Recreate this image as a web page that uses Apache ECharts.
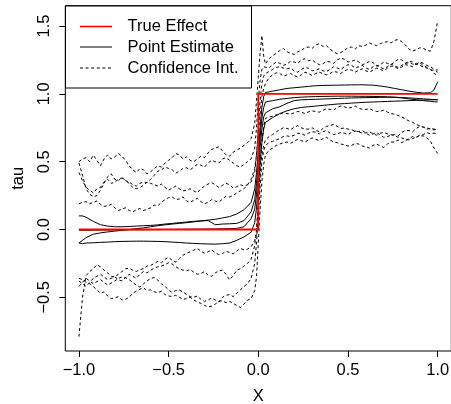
<!DOCTYPE html>
<html>
<head>
<meta charset="utf-8">
<script src="https://cdn.jsdelivr.net/npm/echarts@6/dist/echarts.min.js"></script>
<style>html,body{margin:0;padding:0;background:#fff}#c{width:451px;height:404px}</style>
</head>
<body>
<div id="c"></div>
<script>
// ---- data ----
// x positions of the point-estimate curves
const peX = [-1,-0.98,-0.96,-0.92,-0.88,-0.84,-0.8,-0.76,-0.72,-0.68,-0.64,-0.6,-0.56,-0.52,-0.48,-0.44,-0.4,-0.36,-0.32,-0.28,-0.24,-0.2,-0.16,-0.12,-0.08,-0.04,
  -0.02,-0.01,0,0.01,0.02,0.03,
  0.04,0.08,0.12,0.16,0.2,0.24,0.28,0.32,0.36,0.4,0.44,0.48,0.52,0.56,0.6,0.64,0.68,0.72,0.76,0.8,0.84,0.88,0.92,0.96,0.98,1];

// x positions of the confidence-bound curves
const ciX = [
  -1,-0.98,-0.96,-0.94,-0.92,-0.9,-0.88,-0.86,-0.84,-0.82,
  -0.8,-0.78,-0.76,-0.74,-0.72,-0.7,-0.68,-0.66,-0.64,-0.62,
  -0.6,-0.58,-0.56,-0.54,-0.52,-0.5,-0.48,-0.46,-0.44,-0.42,
  -0.4,-0.38,-0.36,-0.34,-0.32,-0.3,-0.28,-0.26,-0.24,-0.22,
  -0.2,-0.18,-0.16,-0.14,-0.12,-0.1,-0.08,-0.06,-0.04,
  -0.02,-0.01,0,0.01,0.02,0.03,
  0.04,0.06,0.08,0.1,0.12,0.14,0.16,0.18,0.2,0.22,
  0.24,0.26,0.28,0.3,0.32,0.34,0.36,0.38,0.4,0.42,
  0.44,0.46,0.48,0.5,0.52,0.54,0.56,0.58,0.6,0.62,
  0.64,0.66,0.68,0.7,0.72,0.74,0.76,0.78,0.8,0.82,
  0.84,0.86,0.88,0.9,0.92,0.94,0.96,0.98,1];

const trueX = [-1, 0, 0, 1];
const trueY = [0, 0, 1, 1];

// point estimates
const pe1 = [0.10,0.10,0.09,0.06,0.035,0.025,0.02,0.02,0.022,0.025,0.028,0.03,0.034,0.04,0.045,0.05,0.055,0.06,0.064,0.069,0.075,0.085,0.095,0.115,0.145,0.2,
  0.3,0.42,0.58,0.75,0.9,0.98,
  1.01,1.02,1.03,1.04,1.045,1.05,1.055,1.06,1.062,1.063,1.064,1.065,1.066,1.067,1.066,1.064,1.058,1.05,1.04,1.03,1.02,1.012,1.006,1.008,1.03,1.09];
const pe2 = [-0.10,-0.08,-0.06,-0.035,-0.025,-0.018,-0.012,-0.006,0.0,0.006,0.012,0.02,0.028,0.034,0.04,0.045,0.05,0.056,0.062,0.066,0.035,0.04,0.042,0.045,0.065,0.13,
  0.22,0.34,0.5,0.68,0.82,0.9,
  0.94,0.95,0.96,0.966,0.972,0.976,0.978,0.98,0.981,0.982,0.983,0.983,0.983,0.982,0.982,0.981,0.98,0.978,0.975,0.97,0.963,0.957,0.95,0.945,0.942,0.94];
const pe3 = [-0.005,-0.006,-0.006,-0.005,-0.004,-0.004,-0.003,-0.003,-0.002,-0.002,-0.002,-0.001,-0.001,0.0,0.0,0.001,0.001,0.002,0.002,0.003,0.004,0.005,0.006,0.008,0.02,0.08,
  0.15,0.26,0.42,0.6,0.74,0.83,
  0.86,0.89,0.905,0.93,0.95,0.956,0.958,0.96,0.962,0.964,0.966,0.968,0.97,0.971,0.972,0.973,0.974,0.975,0.975,0.973,0.97,0.967,0.963,0.96,0.958,0.955];
const pe4 = [-0.10,-0.105,-0.10,-0.098,-0.095,-0.093,-0.09,-0.088,-0.087,-0.086,-0.086,-0.087,-0.088,-0.09,-0.093,-0.096,-0.1,-0.103,-0.105,-0.107,-0.108,-0.105,-0.1,-0.08,-0.055,-0.02,
  0.05,0.16,0.33,0.5,0.64,0.74,
  0.79,0.825,0.855,0.875,0.89,0.9,0.905,0.91,0.915,0.92,0.925,0.928,0.932,0.935,0.938,0.94,0.942,0.944,0.946,0.948,0.95,0.952,0.954,0.956,0.957,0.958];

// upper confidence bounds
const up1 = [
  0.50,0.52,0.53,0.50,0.548,0.51,0.47,0.52,0.55,0.52,
  0.535,0.56,0.54,0.51,0.47,0.44,0.42,0.45,0.44,0.41,
  0.425,0.45,0.47,0.46,0.49,0.51,0.53,0.56,0.55,0.52,
  0.535,0.51,0.50,0.52,0.54,0.53,0.565,0.59,0.60,0.61,
  0.58,0.55,0.54,0.57,0.585,0.60,0.62,0.64,0.67,
  0.78,0.95,1.12,1.3,1.43,1.28,
  1.22,1.26,1.28,1.30,1.32,1.335,1.31,1.30,1.29,1.31,
  1.32,1.34,1.345,1.335,1.36,1.37,1.35,1.355,1.33,1.31,
  1.295,1.305,1.32,1.34,1.345,1.33,1.355,1.35,1.36,1.375,
  1.365,1.355,1.37,1.38,1.385,1.375,1.395,1.40,1.385,1.36,
  1.33,1.315,1.325,1.34,1.335,1.32,1.315,1.39,1.54];
const up2 = [
  0.42,0.36,0.31,0.29,0.27,0.30,0.31,0.35,0.37,0.34,
  0.35,0.37,0.38,0.36,0.35,0.33,0.32,0.34,0.35,0.345,
  0.37,0.40,0.43,0.44,0.46,0.45,0.44,0.415,0.43,0.45,
  0.455,0.44,0.46,0.48,0.475,0.46,0.49,0.51,0.50,0.49,
  0.52,0.53,0.51,0.49,0.47,0.46,0.48,0.50,0.52,
  0.6,0.75,0.95,1.1,1.18,1.2,
  1.2,1.19,1.215,1.235,1.225,1.21,1.22,1.24,1.235,1.225,
  1.25,1.26,1.245,1.25,1.23,1.215,1.222,1.24,1.235,1.225,
  1.25,1.265,1.255,1.235,1.24,1.25,1.235,1.215,1.225,1.24,
  1.23,1.205,1.215,1.235,1.225,1.215,1.235,1.255,1.25,1.225,
  1.24,1.235,1.22,1.21,1.2,1.19,1.18,1.17,1.16];
const up3 = [
  0.49,0.40,0.30,0.26,0.24,0.25,0.29,0.34,0.39,0.41,
  0.37,0.36,0.385,0.36,0.34,0.31,0.30,0.31,0.325,0.35,
  0.34,0.33,0.32,0.335,0.31,0.29,0.305,0.32,0.30,0.285,
  0.29,0.30,0.285,0.27,0.30,0.32,0.335,0.345,0.33,0.31,
  0.325,0.34,0.33,0.305,0.315,0.33,0.32,0.33,0.35,
  0.42,0.55,0.75,0.95,1.08,1.13,
  1.15,1.165,1.18,1.195,1.2,1.19,1.185,1.19,1.17,1.16,
  1.18,1.195,1.188,1.17,1.175,1.185,1.17,1.165,1.18,1.2,
  1.19,1.18,1.2,1.215,1.21,1.19,1.2,1.21,1.19,1.18,
  1.2,1.21,1.195,1.185,1.2,1.22,1.205,1.195,1.21,1.225,
  1.23,1.22,1.215,1.235,1.225,1.21,1.2,1.18,1.175];
const up4 = [
  0.19,0.20,0.205,0.19,0.20,0.21,0.185,0.17,0.175,0.185,
  0.16,0.14,0.15,0.16,0.14,0.13,0.145,0.155,0.14,0.15,
  0.16,0.18,0.175,0.20,0.22,0.235,0.24,0.22,0.225,0.24,
  0.21,0.20,0.215,0.23,0.205,0.19,0.20,0.22,0.21,0.20,
  0.225,0.245,0.24,0.25,0.27,0.285,0.30,0.33,0.37,
  0.45,0.55,0.7,0.85,0.98,1.04,
  1.076,1.12,1.14,1.155,1.15,1.13,1.14,1.15,1.135,1.125,
  1.14,1.16,1.15,1.135,1.15,1.16,1.148,1.14,1.15,1.165,
  1.16,1.15,1.17,1.18,1.175,1.16,1.174,1.185,1.17,1.16,
  1.175,1.19,1.18,1.17,1.19,1.205,1.2,1.185,1.198,1.215,
  1.21,1.2,1.22,1.23,1.21,1.195,1.18,1.15,1.137];

// lower confidence bounds
const lo1 = [
  -0.79,-0.5,-0.34,-0.31,-0.29,-0.26,-0.275,-0.30,-0.32,-0.345,
  -0.35,-0.33,-0.31,-0.29,-0.285,-0.30,-0.31,-0.295,-0.29,-0.27,
  -0.265,-0.25,-0.235,-0.245,-0.22,-0.205,-0.228,-0.24,-0.214,-0.19,
  -0.175,-0.165,-0.153,-0.14,-0.16,-0.175,-0.165,-0.15,-0.172,-0.185,
  -0.178,-0.16,-0.17,-0.18,-0.158,-0.14,-0.15,-0.145,-0.128,
  -0.08,-0.03,0.2,0.45,0.65,0.76,
  0.82,0.83,0.835,0.845,0.85,0.86,0.855,0.85,0.86,0.87,
  0.865,0.855,0.867,0.875,0.87,0.865,0.878,0.89,0.885,0.88,
  0.9,0.91,0.905,0.895,0.9,0.91,0.895,0.885,0.885,0.89,
  0.878,0.87,0.872,0.88,0.865,0.855,0.85,0.84,0.83,0.815,
  0.8,0.79,0.775,0.765,0.755,0.75,0.74,0.735,0.74];
const lo2 = [
  -0.38,-0.40,-0.42,-0.39,-0.36,-0.345,-0.33,-0.35,-0.37,-0.36,
  -0.35,-0.37,-0.38,-0.355,-0.33,-0.345,-0.36,-0.33,-0.31,-0.32,
  -0.30,-0.285,-0.275,-0.27,-0.26,-0.245,-0.255,-0.275,-0.29,-0.30,
  -0.305,-0.295,-0.315,-0.33,-0.325,-0.31,-0.337,-0.345,-0.32,-0.305,
  -0.30,-0.33,-0.372,-0.34,-0.30,-0.29,-0.27,-0.25,-0.22,
  -0.12,0.0,0.2,0.4,0.55,0.62,
  0.66,0.685,0.7,0.72,0.735,0.75,0.745,0.735,0.755,0.765,
  0.75,0.74,0.74,0.75,0.732,0.72,0.745,0.76,0.765,0.775,
  0.76,0.745,0.748,0.74,0.735,0.725,0.722,0.73,0.71,0.695,
  0.705,0.715,0.695,0.68,0.685,0.695,0.70,0.69,0.715,0.73,
  0.73,0.72,0.745,0.76,0.755,0.74,0.745,0.74,0.735];
const lo3 = [
  -0.42,-0.39,-0.36,-0.38,-0.40,-0.385,-0.37,-0.39,-0.41,-0.395,
  -0.38,-0.36,-0.35,-0.355,-0.37,-0.39,-0.41,-0.425,-0.40,-0.38,
  -0.36,-0.355,-0.374,-0.40,-0.42,-0.445,-0.465,-0.45,-0.447,-0.46,
  -0.48,-0.495,-0.50,-0.49,-0.515,-0.53,-0.52,-0.505,-0.52,-0.535,
  -0.50,-0.485,-0.48,-0.495,-0.47,-0.445,-0.42,-0.40,-0.36,
  -0.25,-0.1,0.1,0.32,0.5,0.58,
  0.62,0.64,0.65,0.66,0.67,0.685,0.69,0.685,0.695,0.71,
  0.705,0.695,0.71,0.72,0.718,0.705,0.72,0.73,0.71,0.70,
  0.705,0.715,0.71,0.70,0.715,0.725,0.72,0.71,0.712,0.72,
  0.705,0.695,0.71,0.715,0.705,0.70,0.69,0.68,0.675,0.665,
  0.66,0.67,0.68,0.695,0.70,0.715,0.705,0.71,0.705];
const lo4 = [
  -0.36,-0.37,-0.39,-0.40,-0.42,-0.445,-0.47,-0.46,-0.49,-0.51,
  -0.505,-0.495,-0.52,-0.515,-0.50,-0.47,-0.455,-0.44,-0.43,-0.45,
  -0.445,-0.46,-0.465,-0.455,-0.48,-0.49,-0.495,-0.485,-0.50,-0.515,
  -0.51,-0.50,-0.52,-0.535,-0.545,-0.56,-0.57,-0.565,-0.55,-0.53,
  -0.525,-0.54,-0.53,-0.545,-0.56,-0.575,-0.55,-0.52,-0.51,
  -0.45,-0.35,-0.1,0.15,0.35,0.48,
  0.55,0.585,0.6,0.62,0.63,0.64,0.645,0.635,0.65,0.665,
  0.655,0.645,0.66,0.675,0.665,0.655,0.67,0.68,0.66,0.645,
  0.64,0.63,0.625,0.615,0.62,0.635,0.63,0.615,0.61,0.6,
  0.62,0.63,0.615,0.605,0.63,0.645,0.645,0.66,0.64,0.655,
  0.67,0.685,0.68,0.69,0.69,0.675,0.65,0.6,0.56];

const xTicks = [-1, -0.5, 0, 0.5, 1];
const xTickLabels = ['\u22121.0', '\u22120.5', '0.0', '0.5', '1.0'];
const yTicks = [-0.5, 0, 0.5, 1, 1.5];
const yTickLabels = ['\u22120.5', '0.0', '0.5', '1.0', '1.5'];
const legendLabels = ['True Effect', 'Point Estimate', 'Confidence Int.'];

// ---- chart ----
const FONT = 'Liberation Sans, Arial, Helvetica, sans-serif';
const FS = 16.5;
const pairs = (xv, ys) => xv.map((x, i) => [x, ys[i]]);
const lookup = (ticks, labels) => (v) => {
  const i = ticks.findIndex(t => Math.abs(t - v) < 1e-9);
  return i >= 0 ? labels[i] : '';
};

const series = [];
[up1, up2, up3, up4, lo1, lo2, lo3, lo4].forEach((d) => series.push({
  name: 'Confidence Int.', type: 'line', data: pairs(ciX, d), showSymbol: false, silent: true,
  lineStyle: { color: '#000', width: 1, type: [3, 2.6] }, z: 2
}));
[pe1, pe2, pe3, pe4].forEach((d) => series.push({
  name: 'Point Estimate', type: 'line', data: pairs(peX, d), showSymbol: false, silent: true,
  lineStyle: { color: '#000', width: 1, type: 'solid' }, z: 3
}));
series.push({
  name: 'True Effect', type: 'line', data: pairs(trueX, trueY), showSymbol: false, silent: true,
  lineStyle: { color: '#ff0000', width: 1.8 }, z: 4
});

const lx0 = 80, lx1 = 112, tx = 127.5;
const rows = [26.5, 47, 68];
const legendGraphics = [
  { type: 'rect', shape: { x: 65.5, y: 6, width: 186, height: 82 }, style: { fill: '#fff', stroke: '#000', lineWidth: 1 }, z: 10 },
  { type: 'line', shape: { x1: lx0, y1: rows[0], x2: lx1, y2: rows[0] }, style: { stroke: '#ff0000', lineWidth: 1.6 }, z: 11 },
  { type: 'line', shape: { x1: lx0, y1: rows[1], x2: lx1, y2: rows[1] }, style: { stroke: '#000', lineWidth: 1 }, z: 11 },
  { type: 'line', shape: { x1: lx0, y1: rows[2], x2: lx1, y2: rows[2] }, style: { stroke: '#000', lineWidth: 1, lineDash: [3, 2.6] }, z: 11 }
];
legendLabels.forEach((t, i) => legendGraphics.push({
  type: 'text', x: tx, y: rows[i], z: 11,
  style: { text: t, fill: '#000', font: FS + 'px ' + FONT, textVerticalAlign: 'middle', textAlign: 'left' }
}));

const chart = echarts.init(document.getElementById('c'), null, { renderer: 'canvas' });
chart.setOption({
  animation: false,
  backgroundColor: '#fff',
  grid: { left: 65.3, top: 5.7, width: 386, height: 345.3, show: true, borderColor: '#000', borderWidth: 1,
          backgroundColor: 'transparent', containLabel: false, outerBoundsMode: 'none' },
  xAxis: {
    type: 'value', min: -1.076, max: 1.076,
    axisLine: { show: false, onZero: false },
    axisTick: { show: true, customValues: xTicks, length: 6, lineStyle: { color: '#000', width: 1 } },
    axisLabel: { customValues: xTicks, formatter: lookup(xTicks, xTickLabels), color: '#000', fontSize: FS, fontFamily: FONT, margin: 11 },
    splitLine: { show: false },
    name: 'X', nameLocation: 'middle', nameGap: 37,
    nameTextStyle: { color: '#000', fontSize: FS, fontFamily: FONT }
  },
  yAxis: {
    type: 'value', min: -0.896, max: 1.65,
    axisLine: { show: false, onZero: false },
    axisTick: { show: true, customValues: yTicks, length: 6, lineStyle: { color: '#000', width: 1 } },
    axisLabel: { customValues: yTicks, formatter: lookup(yTicks, yTickLabels), color: '#000', fontSize: FS, fontFamily: FONT, margin: 12, rotate: 90 },
    splitLine: { show: false },
    name: 'tau', nameLocation: 'middle', nameGap: 38, nameRotate: 90,
    nameTextStyle: { color: '#000', fontSize: FS, fontFamily: FONT }
  },
  series: series,
  graphic: legendGraphics
});
</script>
</body>
</html>
